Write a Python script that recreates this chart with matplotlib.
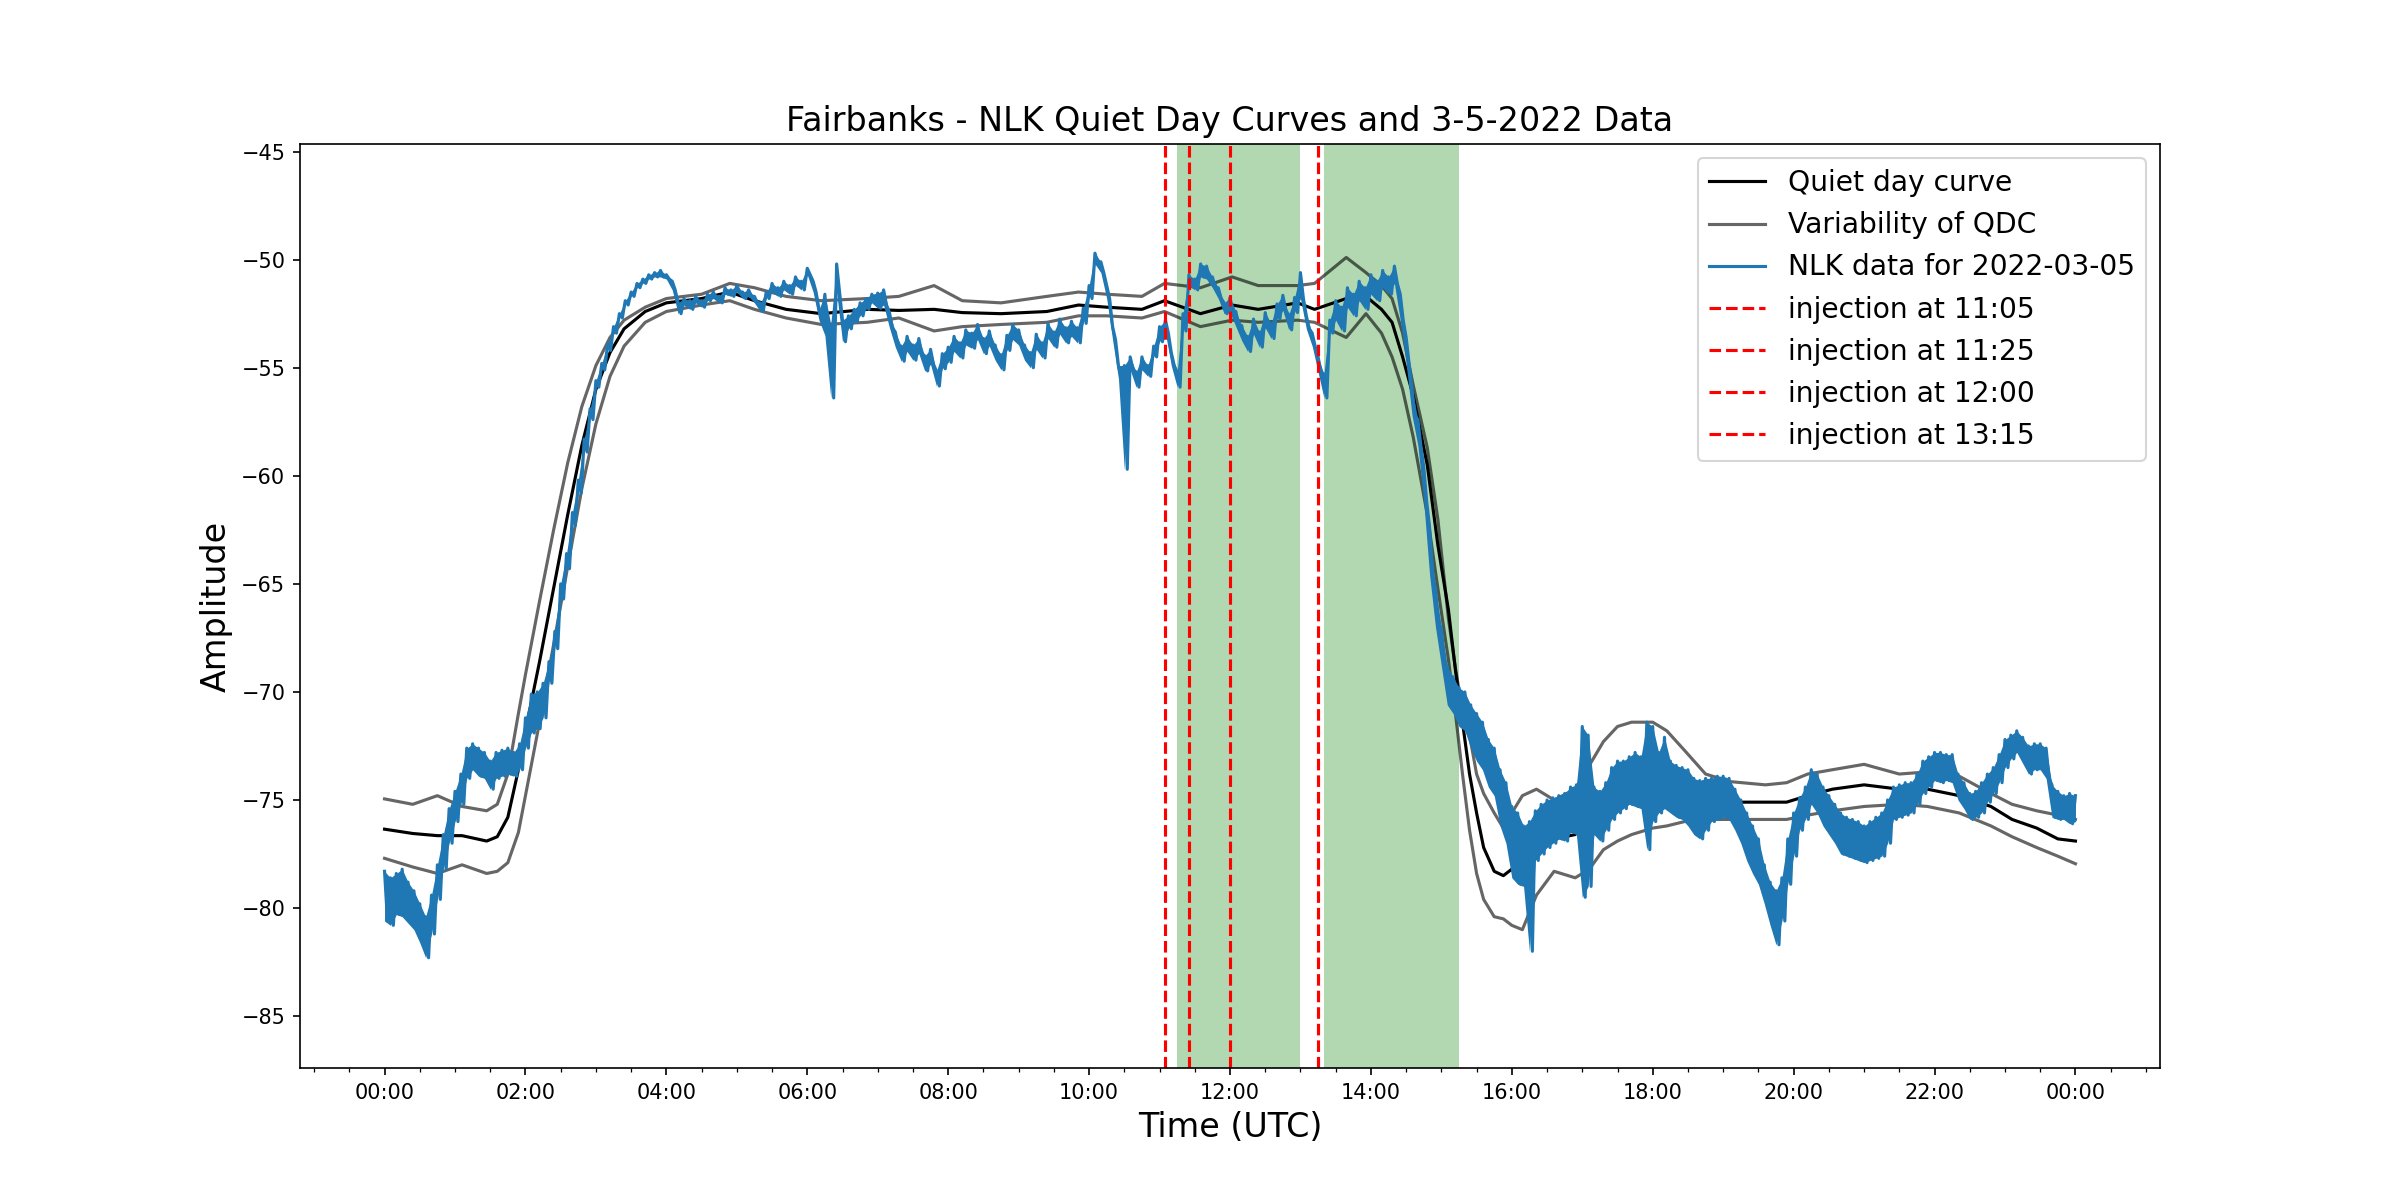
import matplotlib
matplotlib.use("Agg")
import matplotlib.pyplot as plt
import matplotlib.dates as mdates
import numpy as np
from datetime import datetime, timedelta

day = datetime(2022, 3, 5)

# quiet day curve and its variability, read at these hours after midnight
qdc_hours = [0, 0.4, 0.75, 1.1, 1.45, 1.6, 1.75, 1.9, 2.0, 2.2, 2.4, 2.6, 2.8,
             3.0, 3.2, 3.4, 3.7, 4.0, 4.5, 4.9, 5.25, 5.7, 6.2, 6.85, 7.3, 7.8,
             8.2, 8.75, 9.4, 9.85, 10.25, 10.75, 11.07, 11.58, 12.03, 12.4,
             12.96, 13.2, 13.65, 13.93, 14.15, 14.3, 14.45, 14.6, 14.8, 14.95,
             15.1, 15.2, 15.3, 15.4, 15.5, 15.6, 15.75, 15.88, 16.0, 16.15,
             16.35, 16.6, 16.9, 17.1, 17.3, 17.5, 17.7, 18.0, 18.2, 18.45,
             18.75, 19.1, 19.6, 19.9, 20.2, 20.55, 21.0, 21.5, 21.9, 22.35,
             22.8, 23.1, 23.45, 23.75, 24.0]
qdc_amp = [-76.35, -76.55, -76.65, -76.65, -76.9, -76.7, -75.8, -73.6, -71.8,
           -68.6, -65.2, -61.8, -58.6, -56.0, -54.3, -53.2, -52.4, -52.0, -51.8,
           -51.5, -51.9, -52.3, -52.5, -52.3, -52.35, -52.3, -52.45, -52.5,
           -52.4, -52.1, -52.2, -52.3, -51.9, -52.5, -52.1, -52.3, -52.0, -52.3,
           -51.8, -51.7, -52.3, -52.9, -54.5, -56.3, -59.5, -63.2, -66.2, -69.0,
           -71.4, -73.8, -75.6, -77.2, -78.3, -78.5, -78.2, -77.6, -76.85,
           -76.8, -76.6, -75.8, -74.6, -73.7, -73.3, -73.45, -73.8, -74.4,
           -74.8, -75.1, -75.1, -75.1, -74.8, -74.5, -74.3, -74.5, -74.5,
           -74.8, -75.3, -75.9, -76.3, -76.8, -76.9]
qdc_upper = [-74.95, -75.2, -74.8, -75.3, -75.5, -75.2, -73.8, -71.0, -69.2,
             -65.8, -62.5, -59.4, -56.8, -54.9, -53.6, -52.8, -52.2, -51.8,
             -51.6, -51.1, -51.3, -51.7, -51.9, -51.8, -51.7, -51.2, -51.9,
             -52.0, -51.7, -51.5, -51.6, -51.7, -51.1, -51.3, -50.8, -51.2,
             -51.2, -51.1, -49.9, -50.6, -51.2, -51.8, -53.4, -55.8, -58.7,
             -62.0, -66.6, -68.9, -70.9, -72.0, -73.8, -74.7, -75.6, -76.3,
             -75.6, -74.8, -74.5, -75.0, -74.5, -73.4, -72.3, -71.6, -71.4,
             -71.4, -71.8, -72.7, -73.8, -74.15, -74.3, -74.2, -73.8, -73.6,
             -73.35, -73.8, -73.7, -73.9, -74.7, -75.2, -75.5, -75.7, -75.9]
qdc_lower = [-77.7, -78.1, -78.4, -78.0, -78.4, -78.3, -77.9, -76.5, -74.8,
             -71.4, -67.8, -64.2, -60.6, -57.6, -55.4, -54.0, -52.9, -52.4,
             -52.1, -51.9, -52.3, -52.7, -53.0, -52.9, -52.7, -53.3, -53.1,
             -53.0, -52.9, -52.6, -52.6, -52.7, -52.4, -53.1, -52.8, -52.9,
             -52.8, -52.9, -53.6, -52.5, -53.4, -54.5, -56.0, -58.2, -61.8,
             -65.2, -68.5, -71.0, -73.8, -76.4, -78.4, -79.6, -80.4, -80.5,
             -80.8, -81.0, -79.4, -78.3, -78.6, -78.2, -77.3, -76.9, -76.6,
             -76.3, -76.2, -76.0, -75.9, -75.9, -75.9, -75.9, -75.7, -75.5,
             -75.3, -75.2, -75.3, -75.6, -76.2, -76.7, -77.2, -77.6, -77.95]

# NLK amplitude: top and bottom of the noisy trace in each 5 minute slot, 00:00 .. 24:00
nlk_step_min = 5
nlk_high = [
    -78.3, -78.6, -78.4, -78.2, -78.8, -79.2, -79.8, -80.4, -79.4, -78.0, -76.6, -75.4,  # 00h
    -74.6, -73.8, -72.6, -72.4, -72.6, -72.8, -73.2, -72.8, -72.7, -72.6, -72.8, -72.4,  # 01h
    -71.2, -70.1, -70.0, -69.6, -68.6, -67.2, -65.0, -63.6, -61.7, -60.2, -58.3, -56.9,  # 02h
    -55.6, -54.8, -53.9, -53.1, -52.5, -51.9, -51.5, -51.1, -50.9, -50.7, -50.6, -50.5,  # 03h
    -50.7, -51.0, -52.0, -51.8, -51.9, -51.7, -51.9, -51.6, -51.5, -51.7, -51.3, -51.4,  # 04h
    -51.2, -51.5, -51.4, -51.7, -52.0, -51.5, -51.1, -51.3, -51.0, -51.2, -50.8, -51.0,  # 05h
    -50.4, -51.0, -52.3, -51.6, -53.0, -50.2, -52.8, -52.6, -52.3, -52.0, -51.8, -51.6,  # 06h
    -51.55, -51.4, -52.45, -53.35, -54.0, -53.55, -53.95, -53.65, -54.45, -54.15, -55.15, -54.35,  # 07h
    -54.05, -53.55, -53.85, -53.25, -53.4, -53.0, -53.65, -53.3, -53.95, -54.4, -53.5, -53.0,  # 08h
    -53.25, -53.95, -54.3, -53.45, -53.85, -52.95, -53.35, -52.75, -53.15, -52.85, -53.15, -52.25,  # 09h
    -51.2, -49.7, -50.1, -51.2, -53.1, -54.9, -54.9, -54.5, -55.2, -54.5, -54.9, -54.0,  # 10h
    -53.1, -52.8, -54.3, -55.2, -52.5, -50.7, -50.9, -50.2, -50.3, -50.8, -51.3, -52.0,  # 11h
    -51.75, -52.4, -53.05, -53.55, -52.75, -53.35, -52.45, -52.95, -52.05, -51.65, -52.55, -51.75,  # 12h
    -50.6, -52.6, -53.4, -54.5, -55.3, -52.8, -51.9, -52.2, -51.3, -51.6, -51.0, -51.3,  # 13h
    -50.7, -51.0, -50.5, -50.8, -50.3, -51.6, -53.6, -56.0, -57.4, -59.6, -62.4, -65.2,  # 14h
    -67.0, -68.8, -69.3, -69.8, -70.0, -70.6, -71.0, -71.4, -72.2, -72.6, -73.6, -74.2,  # 15h
    -75.3, -75.6, -76.2, -76.0, -75.5, -75.2, -75.0, -74.9, -74.8, -74.7, -74.4, -74.3,  # 16h
    -71.6, -72.0, -74.4, -74.6, -74.2, -73.5, -73.2, -73.2, -73.0, -72.8, -73.0, -71.4,  # 17h
    -71.6, -72.8, -72.1, -73.2, -73.4, -73.5, -73.6, -74.0, -74.1, -74.0, -74.0, -73.9,  # 18h
    -73.9, -74.0, -74.5, -75.0, -75.6, -76.2, -76.8, -78.0, -78.8, -79.2, -78.6, -76.8,  # 19h
    -75.6, -74.9, -74.4, -73.6, -73.8, -74.4, -74.8, -75.2, -75.6, -75.8, -75.9, -76.0,  # 20h
    -76.2, -76.0, -75.8, -75.6, -75.0, -74.4, -74.3, -74.2, -74.2, -73.8, -73.2, -73.0,  # 21h
    -72.8, -72.8, -72.9, -72.9, -73.8, -74.2, -74.7, -74.6, -74.2, -73.8, -73.5, -72.9,  # 22h
    -72.2, -72.0, -71.8, -72.1, -72.5, -72.4, -72.4, -72.6, -74.3, -74.6, -74.8, -74.7,  # 23h
    -74.8,
]
nlk_low = [
    -80.6, -80.8, -80.3, -80.4, -80.7, -81.0, -81.6, -82.3, -81.2, -79.6, -78.2, -77.0,  # 00h
    -76.0, -75.2, -74.0, -73.6, -73.9, -74.0, -74.5, -74.0, -73.9, -73.8, -73.9, -73.6,  # 01h
    -72.6, -71.9, -71.7, -71.2, -69.6, -68.0, -65.7, -64.3, -62.3, -60.8, -58.9, -57.4,  # 02h
    -55.9, -55.1, -54.2, -53.4, -52.7, -52.1, -51.7, -51.3, -51.1, -50.9, -50.8, -50.8,  # 03h
    -50.9, -51.4, -52.5, -52.1, -52.3, -52.0, -52.2, -51.9, -51.8, -52.0, -51.6, -51.7,  # 04h
    -51.5, -51.8, -51.7, -52.0, -52.4, -51.8, -51.5, -51.7, -51.4, -51.6, -51.2, -51.4,  # 05h
    -50.7, -51.5, -52.8, -53.5, -56.4, -51.5, -53.8, -53.2, -52.9, -52.6, -52.3, -52.0,  # 06h
    -52.25, -52.1, -53.15, -54.05, -54.7, -54.25, -54.65, -54.35, -55.15, -54.85, -55.85, -55.05,  # 07h
    -54.75, -54.25, -54.55, -53.95, -54.1, -53.7, -54.35, -54.0, -54.65, -55.1, -54.2, -53.7,  # 08h
    -53.95, -54.65, -55.0, -54.15, -54.55, -53.65, -54.05, -53.45, -53.85, -53.55, -53.85, -52.95,  # 09h
    -51.8, -50.2, -50.6, -51.8, -53.7, -55.5, -59.7, -55.1, -55.9, -55.1, -55.4, -54.5,  # 10h
    -53.8, -53.4, -54.9, -55.9, -53.3, -51.2, -51.4, -50.8, -50.9, -51.3, -51.8, -52.5,  # 11h
    -52.45, -53.1, -53.75, -54.25, -53.45, -54.05, -53.15, -53.65, -52.75, -52.35, -53.25, -52.45,  # 12h
    -51.8, -53.2, -54.0, -55.2, -56.4, -53.4, -52.8, -53.3, -52.2, -52.6, -51.9, -52.3,  # 13h
    -51.6, -51.9, -51.3, -51.6, -51.1, -52.8, -54.8, -57.2, -58.6, -61.2, -64.6, -67.0,  # 14h
    -68.8, -70.6, -71.0, -71.6, -71.8, -72.6, -73.2, -73.6, -74.4, -74.8, -76.2, -77.0,  # 15h
    -78.6, -78.9, -79.0, -82.0, -77.8, -77.5, -77.2, -77.0, -76.8, -76.9, -76.5, -76.6,  # 16h
    -79.5, -79.0, -76.6, -76.9, -76.4, -75.9, -75.6, -75.4, -75.2, -75.3, -75.4, -77.3,  # 17h
    -76.0, -75.6, -75.4, -75.6, -75.8, -75.9, -76.2, -76.6, -76.8, -76.4, -76.0, -75.9,  # 18h
    -75.8, -75.9, -76.4, -77.0, -77.8, -78.4, -78.9, -79.8, -80.8, -81.7, -80.6, -78.9,  # 19h
    -77.6, -76.4, -75.9, -75.2, -75.6, -76.2, -76.6, -77.0, -77.5, -77.6, -77.7, -77.8,  # 20h
    -77.9, -77.8, -77.7, -77.6, -77.0, -75.9, -75.8, -75.7, -75.6, -75.2, -74.7, -74.4,  # 21h
    -74.1, -74.2, -74.1, -74.2, -75.0, -75.4, -75.9, -75.8, -75.6, -75.1, -74.7, -74.2,  # 22h
    -73.5, -73.1, -72.8, -73.3, -73.8, -73.6, -73.6, -74.0, -75.8, -75.9, -75.9, -76.1,  # 23h
    -76.0,
]

injections = ["11:05", "11:25", "12:00", "13:15"]
heating_windows = [("11:15", "13:00"), ("13:20", "15:15")]


def at(hhmm):
    h, m = map(int, hhmm.split(":"))
    return day + timedelta(hours=h, minutes=m)


qdc_t = [day + timedelta(hours=h) for h in qdc_hours]

# noise band, and a trace that alternates between its top and bottom
band_t = [day + timedelta(minutes=nlk_step_min * i) for i in range(len(nlk_high))]
nlk_amp = np.column_stack((nlk_high, nlk_low)).ravel()[:-1]
half_step = nlk_step_min / 2
nlk_t = [day + timedelta(minutes=half_step * i) for i in range(len(nlk_amp))]

fig, ax = plt.subplots(figsize=(16, 8))

ax.plot(qdc_t, qdc_amp, color="k", label="Quiet day curve")
ax.plot(qdc_t, qdc_upper, color="k", alpha=0.6, label="Variability of QDC")
ax.plot(qdc_t, qdc_lower, color="k", alpha=0.6)
ax.fill_between(band_t, nlk_low, nlk_high, color="tab:blue", lw=0, zorder=2)
ax.plot(nlk_t, nlk_amp, color="tab:blue", label="NLK data for 2022-03-05")

for inj in injections:
    ax.axvline(at(inj), color="r", linestyle="--", label=f"injection at {inj}")

for start, end in heating_windows:
    ax.axvspan(at(start), at(end), color="green", alpha=0.3, lw=0)

ax.set_ylim(-87.4, -44.65)
ax.xaxis.set_major_locator(mdates.HourLocator(byhour=range(0, 24, 2)))
ax.xaxis.set_minor_locator(mdates.MinuteLocator(byminute=[0, 30]))
ax.xaxis.set_major_formatter(mdates.DateFormatter("%H:%M"))

ax.set_title("Fairbanks - NLK Quiet Day Curves and 3-5-2022 Data", fontsize=16)
ax.set_xlabel("Time (UTC)", fontsize=16)
ax.set_ylabel("Amplitude", fontsize=16)
ax.legend(loc="upper right", fontsize=13.5)

fig.savefig("out.png", dpi=150)
